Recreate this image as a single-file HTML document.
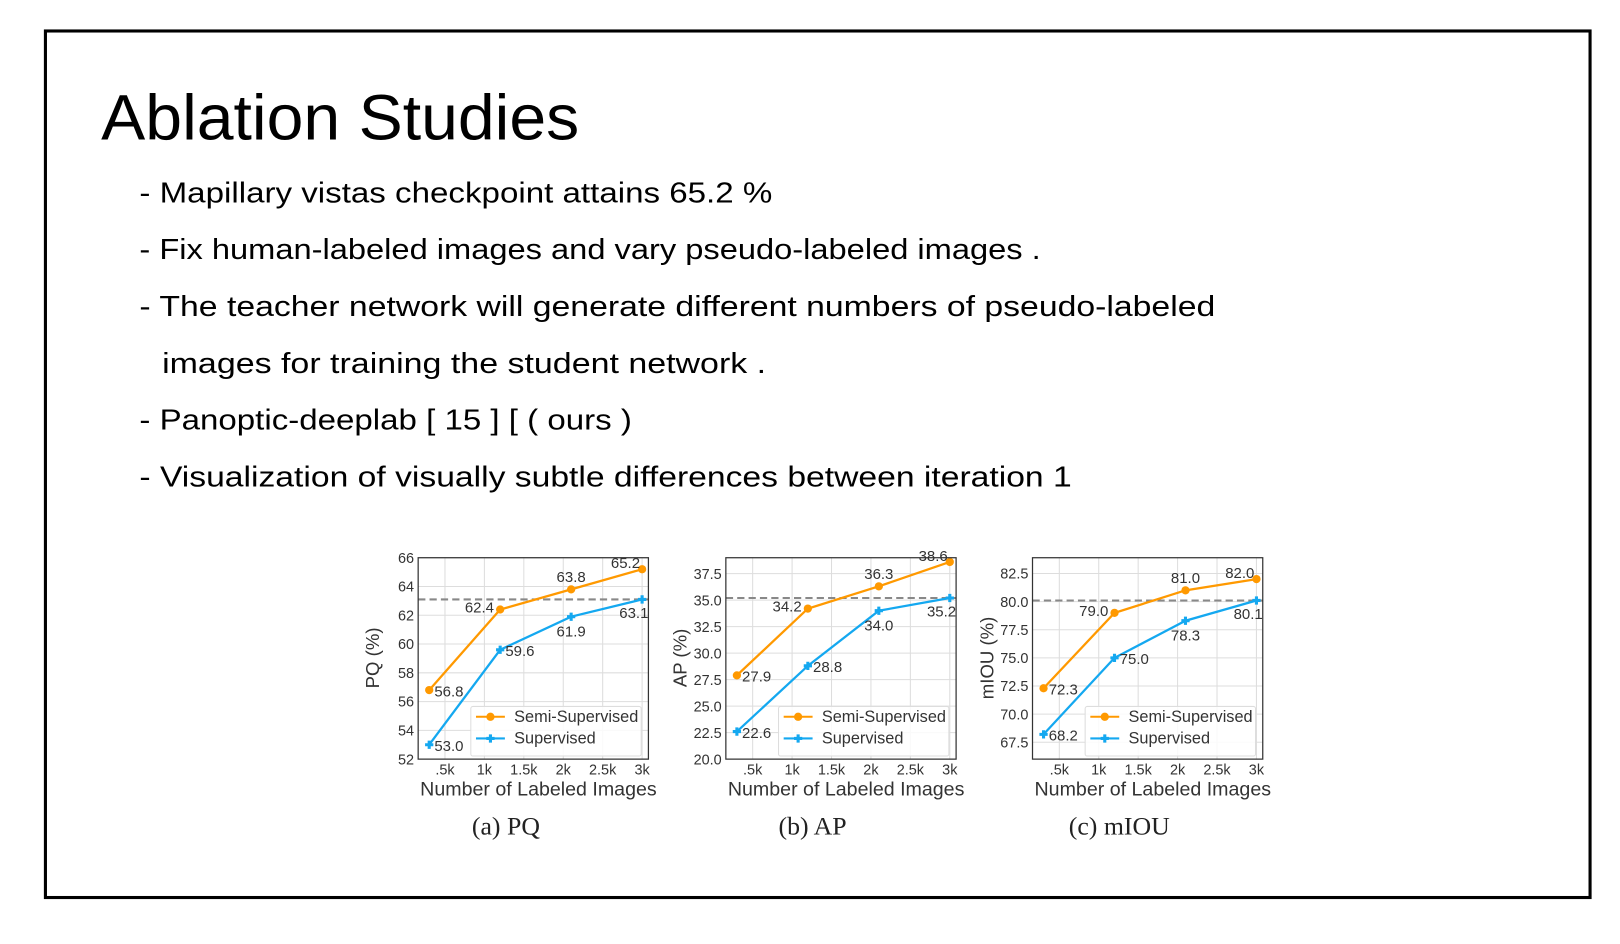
<!DOCTYPE html>
<html><head><meta charset="utf-8"><style>
html,body{margin:0;padding:0;background:#fff;}
svg{display:block;}
</style></head><body>
<svg id="slide" width="1620" height="944" viewBox="0 0 1569 914" preserveAspectRatio="none" xmlns="http://www.w3.org/2000/svg" font-family="Liberation Sans, sans-serif">
<rect x="44" y="30" width="1496" height="839" fill="#fff" stroke="#000" stroke-width="3"/>
<text x="98" y="135" font-size="62" textLength="463" lengthAdjust="spacingAndGlyphs">Ablation Studies</text>
<g font-size="28" fill="#000">
<text x="135" y="196" textLength="613" lengthAdjust="spacingAndGlyphs">- Mapillary vistas checkpoint attains 65.2 %</text>
<text x="135" y="251" textLength="873" lengthAdjust="spacingAndGlyphs">- Fix human-labeled images and vary pseudo-labeled images .</text>
<text x="135" y="306" textLength="1042" lengthAdjust="spacingAndGlyphs">- The teacher network will generate different numbers of pseudo-labeled</text>
<text x="157" y="361" textLength="585" lengthAdjust="spacingAndGlyphs">images for training the student network .</text>
<text x="135" y="416" textLength="477" lengthAdjust="spacingAndGlyphs">- Panoptic-deeplab [ 15 ] [ ( ours )</text>
<text x="135" y="471" textLength="903" lengthAdjust="spacingAndGlyphs">- Visualization of visually subtle differences between iteration 1</text>
</g>
<g id="charts"></g>
</svg>
<script>
// shared x data (thousands of labeled images)
const xValues = [0.3, 1.2, 2.1, 3.0];
const xTickVals = [0.5, 1, 1.5, 2, 2.5, 3];
const xTickLabels = ['.5k', '1k', '1.5k', '2k', '2.5k', '3k'];
// PQ
const pqSemi = [56.8, 62.4, 63.8, 65.2];
const pqSup = [53.0, 59.6, 61.9, 63.1];
const pqTicks = [52, 54, 56, 58, 60, 62, 64, 66];
const pqTickLabels = ['52','54','56','58','60','62','64','66'];
const pqRef = 63.1;
// AP
const apSemi = [27.9, 34.2, 36.3, 38.6];
const apSup = [22.6, 28.8, 34.0, 35.2];
const apTicks = [20, 22.5, 25, 27.5, 30, 32.5, 35, 37.5];
const apTickLabels = ['20.0','22.5','25.0','27.5','30.0','32.5','35.0','37.5'];
const apRef = 35.2;
// mIOU
const miSemi = [72.3, 79.0, 81.0, 82.0];
const miSup = [68.2, 75.0, 78.3, 80.1];
const miTicks = [67.5, 70, 72.5, 75, 77.5, 80, 82.5];
const miTickLabels = ['67.5','70.0','72.5','75.0','77.5','80.0','82.5'];
const miRef = 80.1;
// label placement codes
const semiLabelPos = ['r', 'l', 't', 'tl'];
const supLabelPos = ['r', 'r', 'b', 'b'];

const NS = 'http://www.w3.org/2000/svg';
const root = document.getElementById('charts');
function mk(tag, attrs, parent, txt) {
  const e = document.createElementNS(NS, tag);
  for (const k in attrs) e.setAttribute(k, attrs[k]);
  if (txt !== undefined) e.textContent = txt;
  parent.appendChild(e);
  return e;
}
const ORANGE = '#ff9900', BLUE = '#14a8f0';

function chart(cfg) {
  const L = cfg.left, R = cfg.left + 223, T = 540, B = 735;
  const g = mk('g', {}, root);
  
  
  const xd = [0.16, 3.08];
  const X = v => L + (v - xd[0]) / (xd[1] - xd[0]) * (R - L);
  const Y = v => B - (v - cfg.ymin) / (cfg.ymax - cfg.ymin) * (B - T);
  xTickVals.forEach((v, i) => {
    const l = mk('line', {x1: X(v), x2: X(v), y1: T, y2: B, stroke: '#ddd', 'stroke-width': 1}, g);
    
    
    const t = mk('text', {x: X(v), y: B + 15, 'font-size': 14, fill: '#333', 'text-anchor': 'middle'}, g, xTickLabels[i]);
    
    
  });
  cfg.ticks.forEach((v, i) => {
    const l = mk('line', {x1: L, x2: R, y1: Y(v), y2: Y(v), stroke: '#ddd', 'stroke-width': 1}, g);
    
    
    const t = mk('text', {x: L - 4, y: Y(v) + 5, 'font-size': 14, fill: '#333', 'text-anchor': 'end'}, g, cfg.tickLabels[i]);
    
    
  });
  const ref = mk('line', {x1: L, x2: R, y1: Y(cfg.ref), y2: Y(cfg.ref), stroke: '#888', 'stroke-width': 2, 'stroke-dasharray': '7,4'}, g);
  
  
  function series(vals, color, marker, pos, nm) {
    const sg = mk('g', {}, g);
    
    
    const pts = vals.map((v, i) => X(xValues[i]) + ',' + Y(v)).join(' ');
    const pl = mk('polyline', {points: pts, fill: 'none', stroke: color, 'stroke-width': 2.2}, sg);
    
    
    vals.forEach((v, i) => {
      const cx = X(xValues[i]), cy = Y(v);
      let m;
      if (marker === 'o') m = mk('circle', {cx, cy, r: 4, fill: color}, sg);
      else m = mk('path', {d: `M${cx-4} ${cy}H${cx+4}M${cx} ${cy-4}V${cy+4}`, stroke: color, 'stroke-width': 3}, sg);
      
      
      let tx = cx, ty = cy, anc = 'start';
      const p = pos[i];
      if (p === 'r') { tx = cx + 5; ty = cy + 6; }
      else if (p === 'l') { tx = cx - 6; ty = cy + 3; anc = 'end'; }
      else if (p === 't') { ty = cy - 7; anc = 'middle'; }
      else if (p === 'tl') { tx = cx - 2; ty = cy - 1; anc = 'end'; }
      else if (p === 'b') { ty = cy + 19; anc = 'middle'; if (i === 3) { tx = cx - 8; ty = cy + 18; } }
      const t = mk('text', {x: tx, y: ty, 'font-size': 14.5, fill: '#333', 'text-anchor': anc}, sg, v.toFixed(1));
      
      
    });
  }
  series(cfg.semi, ORANGE, 'o', semiLabelPos, 'semi-supervised-series');
  series(cfg.sup, BLUE, '+', supLabelPos, 'supervised-series');
  const fr = mk('rect', {x: L, y: T, width: R - L, height: B - T, fill: 'none', stroke: '#333', 'stroke-width': 1.2}, g);
  
  
  const lg = mk('g', {}, g);
  
  
  const lx = L + 51;
  mk('rect', {x: lx, y: 684, width: 165, height: 48, fill: '#fff', 'fill-opacity': 0.85, stroke: '#ddd', rx: 2}, lg);
  mk('line', {x1: lx + 5, x2: lx + 33, y1: 694, y2: 694, stroke: ORANGE, 'stroke-width': 2}, lg);
  mk('circle', {cx: lx + 19, cy: 694, r: 4, fill: ORANGE}, lg);
  const t1 = mk('text', {x: lx + 42, y: 699, 'font-size': 15.8, fill: '#333'}, lg, 'Semi-Supervised');
  
  
  mk('line', {x1: lx + 5, x2: lx + 33, y1: 715, y2: 715, stroke: BLUE, 'stroke-width': 2}, lg);
  mk('path', {d: `M${lx+15} 715H${lx+23}M${lx+19} 711V719`, stroke: BLUE, 'stroke-width': 3}, lg);
  const t2 = mk('text', {x: lx + 42, y: 720, 'font-size': 15.8, fill: '#333'}, lg, 'Supervised');
  
  
  const xt = mk('text', {x: (L + R) / 2 + 5, y: 770, 'font-size': 19, fill: '#333', 'text-anchor': 'middle'}, g, 'Number of Labeled Images');
  
  
  const yx = L - 38;
  const yt = mk('text', {x: yx, y: 637, 'font-size': 18, fill: '#333', 'text-anchor': 'middle', transform: `rotate(-90 ${yx} 637)`}, g, cfg.ylabel);
  
  
  const cap = mk('text', {x: cfg.capX, y: 808, 'font-size': 25, fill: '#222', 'text-anchor': 'middle', 'font-family': 'Liberation Serif, serif'}, g, cfg.caption);
  
  
}
chart({name: 'pq-chart', left: 405, ymin: 52, ymax: 66, ticks: pqTicks, tickLabels: pqTickLabels, ref: pqRef, semi: pqSemi, sup: pqSup, ylabel: 'PQ (%)', caption: '(a) PQ', capX: 490});
chart({name: 'ap-chart', left: 703, ymin: 20, ymax: 39, ticks: apTicks, tickLabels: apTickLabels, ref: apRef, semi: apSemi, sup: apSup, ylabel: 'AP (%)', caption: '(b) AP', capX: 787});
chart({name: 'miou-chart', left: 1000, ymin: 66.0, ymax: 83.9, ticks: miTicks, tickLabels: miTickLabels, ref: miRef, semi: miSemi, sup: miSup, ylabel: 'mIOU (%)', caption: '(c) mIOU', capX: 1084});
</script>
</body></html>
